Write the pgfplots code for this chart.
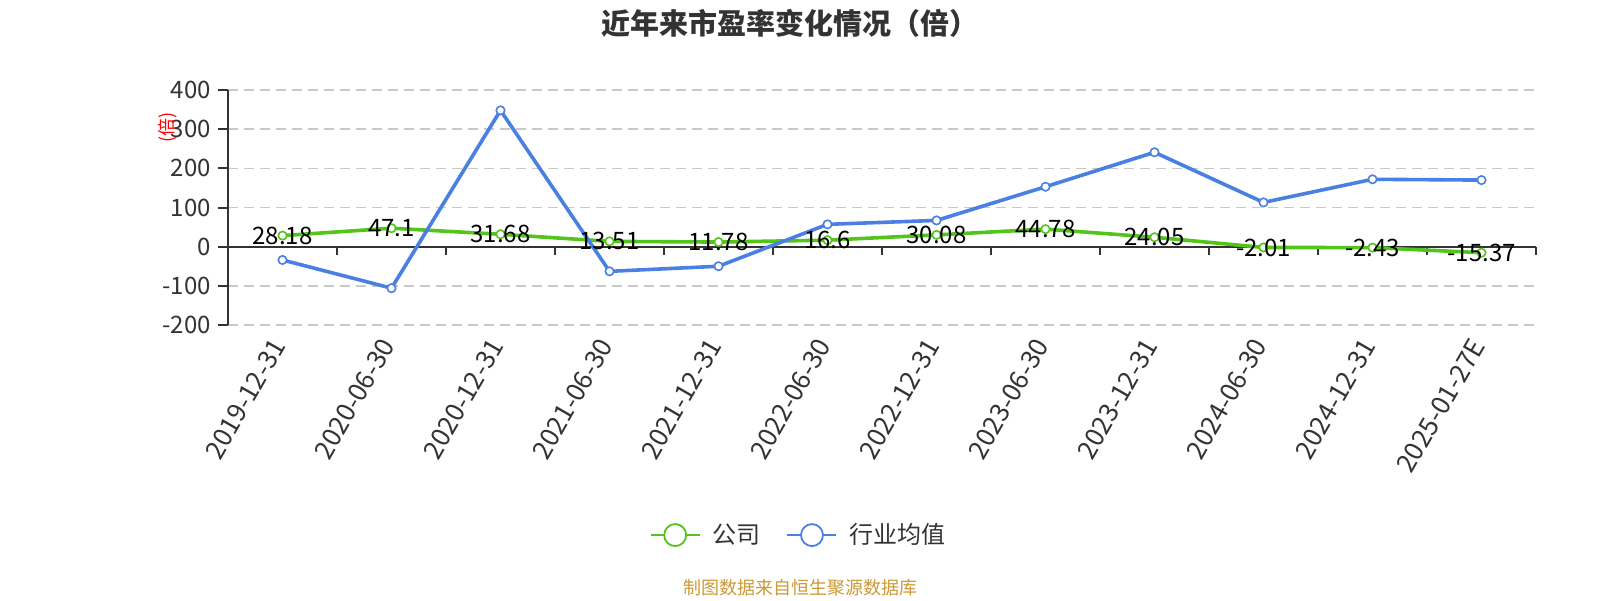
\documentclass[border=0pt]{standalone}
\usepackage{fontspec}
\setmainfont{Noto Sans CJK SC}
\usepackage{pgfplots}
\pgfplotsset{compat=1.18}

\definecolor{cgreen}{RGB}{82,196,26}
\definecolor{cblue}{RGB}{74,128,226}
\definecolor{ctext}{RGB}{51,51,51}
\definecolor{cgrid}{RGB}{200,200,200}
\definecolor{csource}{RGB}{204,153,51}

\pgfplotstableread{
x y lab
0 28.18 28.18
1 47.1 47.1
2 31.68 31.68
3 13.51 13.51
4 11.78 11.78
5 16.6 16.6
6 30.08 30.08
7 44.78 44.78
8 24.05 24.05
9 -2.01 -2.01
10 -2.43 -2.43
11 -15.37 -15.37
}\company

\pgfplotstableread{
x y
0 -34
1 -106
2 348
3 -63
4 -50
5 57
6 67
7 153
8 241
9 113
10 172
11 170
}\industry

\begin{document}
\begin{tikzpicture}
\useasboundingbox (0pt,0pt) rectangle (800pt,300pt);
\node[font=\bfseries\fontsize{14.5}{16}\selectfont, text=ctext] at (395pt,288.5pt) {近年来市盈率变化情况（倍）};
\node[font=\fontsize{9}{11}\selectfont, text=csource] at (400pt,6pt) {制图数据来自恒生聚源数据库};
\begin{axis}[
  at={(114pt,137.5pt)}, anchor=south west,
  scale only axis, width=654pt, height=117.5pt,
  xmin=-0.5, xmax=11.5, ymin=-200, ymax=400,
  axis x line=bottom, axis y line=left,
  x axis line style={draw=none},
  y axis line style={-, color=ctext, line width=1pt},
  xtick={0,...,11},
  xticklabels={2019-12-31,2020-06-30,2020-12-31,2021-06-30,2021-12-31,2022-06-30,2022-12-31,2023-06-30,2023-12-31,2024-06-30,2024-12-31,2025-01-27E},
  x tick style={draw=none},
  xticklabel style={rotate=60, anchor=east, font=\fontsize{13}{15}\selectfont, text=ctext},
  ytick={-200,-100,...,400},
  tick align=outside,
  y tick style={color=ctext, line width=1pt},
  major tick length=5pt,
  yticklabel style={font=\fontsize{12}{14}\selectfont, text=ctext},
  /pgf/number format/assume math mode=true,
  ymajorgrids,
  grid style={cgrid, line width=0.8pt, dash pattern=on 5pt off 3pt},
  ylabel={(倍)},
  ylabel style={at={(axis description cs:-0.046,0.84)}, anchor=center, rotate=0, font=\fontsize{9}{10}\selectfont, text=red},
  legend columns=2,
  legend style={draw=none, fill=none, at={(0.437,-0.894)}, anchor=center,
    font=\fontsize{12}{14}\selectfont, text=ctext,
    /tikz/every even column/.append style={column sep=11pt},
    /tikz/every odd column/.append style={column sep=4pt}},
  legend image code/.code={
    \draw[#1, line width=0.9pt] (0pt,0pt) -- (24.5pt,0pt);
    \draw[#1, fill=white, line width=0.9pt] (12.25pt,0pt) circle (5.5pt);
  },
  clip=false,
]
\draw[ctext, line width=1pt] (axis cs:-0.5,0) -- (axis cs:11.5,0);
\pgfplotsinvokeforeach{0.5,1.5,2.5,3.5,4.5,5.5,6.5,7.5,8.5,9.5,10.5,11.5}{
  \draw[ctext, line width=1pt] (axis cs:#1,0) -- ([yshift=-4pt]axis cs:#1,0);
}
\addplot[cgreen, line width=1.8pt, mark=*, mark size=2.1pt,
  mark options={fill=white, line width=0.8pt},
  nodes near coords, point meta=explicit symbolic,
  nodes near coords style={anchor=center, text=black, font=\fontsize{12}{14}\selectfont}]
  table[x=x, y=y, meta=lab] {\company};
\addlegendentry{公司}
\addplot[cblue, line width=1.8pt, mark=*, mark size=2.1pt,
  mark options={fill=white, line width=0.8pt}]
  table[x=x, y=y] {\industry};
\addlegendentry{行业均值}
\end{axis}
\end{tikzpicture}
\end{document}
